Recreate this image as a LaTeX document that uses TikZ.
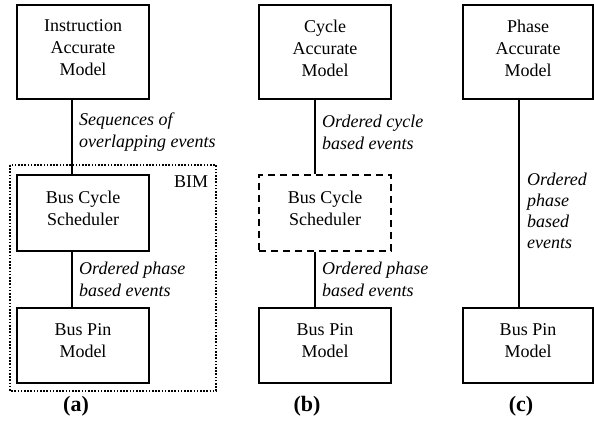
\documentclass[tikz,border=0pt]{standalone}
\usepackage{fontspec}
\setmainfont{Liberation Serif}
\begin{document}
\begin{tikzpicture}[x=1pt,y=-1pt,
  box/.style={draw,line width=1.6pt,minimum width=132pt,inner sep=0pt},
  boxtext/.style={align=center,inner sep=0pt,font=\fontsize{18}{22}\selectfont},
  edgetext/.style={align=left,inner sep=0pt,anchor=west,font=\fontsize{18}{22}\selectfont\itshape},
  conn/.style={line width=1.3pt},
  caption/.style={inner sep=0pt,font=\fontsize{22}{24}\selectfont\bfseries}]
\useasboundingbox (0,0) rectangle (594,423);
% (a)
\draw[line width=1.6pt,dash pattern=on 1.6pt off 1.6pt] (10,165) rectangle (216,391);
\node[box,minimum height=94pt] (ia) at (83,52) {};
\node[boxtext] (iat) at (83,48) {Instruction\\Accurate\\Model};
\node[box,minimum height=76pt] (bcsa) at (83,213) {};
\node[boxtext] (bcsat) at (83,208) {Bus Cycle\\Scheduler};
\node[box,minimum height=75pt] (bpa) at (83,345.5) {};
\node[boxtext] (bpat) at (83,341) {Bus Pin\\Model};
\coordinate (la) at (72,0);
\draw[conn] (ia.south -| la) -- (bcsa.north -| la);
\draw[conn] (bcsa.south -| la) -- (bpa.north -| la);
\node[edgetext] (sa1) at (79,132) {Sequences of\\overlapping events};
\node[edgetext] (sa2) at (79,279) {Ordered phase\\based events};
\node[boxtext] (bim) at (191,182) {BIM};
\node[caption] (capa) at (76,406) {(a)};
% (b)
\node[box,minimum height=94pt] (cam) at (325,52) {};
\node[boxtext] (camt) at (325,48) {Cycle\\Accurate\\Model};
\node[box,minimum height=76pt,dash pattern=on 7pt off 5pt] (bcsb) at (325,213) {};
\node[boxtext] (bcsbt) at (325,208) {Bus Cycle\\Scheduler};
\node[box,minimum height=75pt] (bpb) at (325,345.5) {};
\node[boxtext] (bpbt) at (325,341) {Bus Pin\\Model};
\coordinate (lb) at (315,0);
\draw[conn] (cam.south -| lb) -- (bcsb.north -| lb);
\draw[conn] (bcsb.south -| lb) -- (bpb.north -| lb);
\node[edgetext] (sb1) at (322,132) {Ordered cycle\\based events};
\node[edgetext] (sb2) at (322,279) {Ordered phase\\based events};
\node[caption] (capb) at (307,406) {(b)};
% (c)
\node[box,minimum width=130pt,minimum height=94pt] (pam) at (528,52) {};
\node[boxtext] (pamt) at (528,48) {Phase\\Accurate\\Model};
\node[box,minimum width=130pt,minimum height=75pt] (bpc) at (528,345.5) {};
\node[boxtext] (bpct) at (528,341) {Bus Pin\\Model};
\coordinate (lc) at (519,0);
\draw[conn] (pam.south -| lc) -- (bpc.north -| lc);
\node[edgetext,font=\fontsize{18}{21}\selectfont\itshape] (sc) at (527,211) {Ordered\\phase\\based\\events};
\node[caption] (capc) at (521,406) {(c)};
\end{tikzpicture}
\end{document}
